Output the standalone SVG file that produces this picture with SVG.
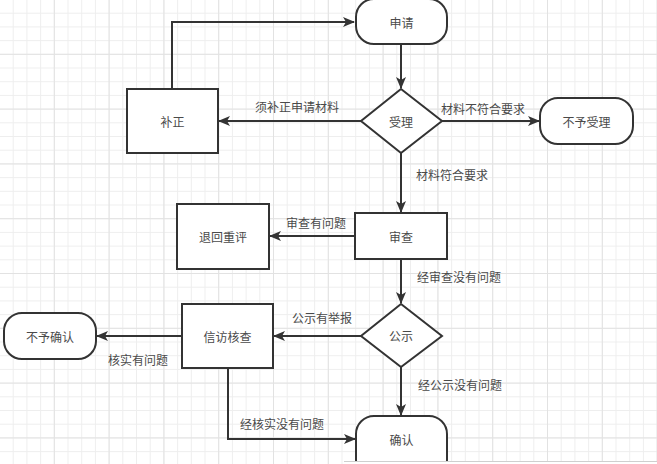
<svg xmlns="http://www.w3.org/2000/svg" width="657" height="464" viewBox="0 0 657 464">
<style>
.node{fill:#fff;stroke:#333;stroke-width:2}
.t{font-family:"Noto Sans CJK SC","Noto Sans",sans-serif;font-size:12px;fill:#4a4a4a;text-anchor:middle;dominant-baseline:central}
.c{fill:none;stroke:#333;stroke-width:2;marker-end:url(#arr)}
</style>
<defs>
<pattern id="g" width="13.7" height="13.7" patternUnits="userSpaceOnUse">
<path d="M13.2,0V13.7M0,13.2H13.7" stroke="#eeeeee" stroke-width="1" fill="none"/>
</pattern>
<pattern id="G" width="54.8" height="54.8" patternUnits="userSpaceOnUse">
<path d="M54.3,0V54.8M0,54.3H54.8" stroke="#e2e2e2" stroke-width="1" fill="none"/>
</pattern>
<marker id="arr" markerWidth="12" markerHeight="10" refX="11" refY="5" orient="auto" markerUnits="userSpaceOnUse">
<path d="M0,0L12,5L0,10L3,5Z" fill="#333"/>
</marker>
</defs>
<rect width="657" height="464" fill="#fff"/>
<rect width="657" height="464" fill="url(#g)"/>
<rect width="657" height="464" fill="url(#G)"/>
<g id="connectors">
<path class="c" d="M401,44V88"/>
<path class="c" d="M361,121H219"/>
<path class="c" d="M172,89V22H354"/>
<path class="c" d="M442,121H539"/>
<path class="c" d="M401,153V212"/>
<path class="c" d="M355,236H270"/>
<path class="c" d="M401,259V303"/>
<path class="c" d="M361,336H274"/>
<path class="c" d="M182,336H97"/>
<path class="c" d="M228,368V439H355"/>
<path class="c" d="M401,367V415"/>
</g>
<g id="labels">
<text class="t" x="297" y="106">须补正申请材料</text>
<text class="t" x="483" y="108">材料不符合要求</text>
<text class="t" x="452" y="174">材料符合要求</text>
<text class="t" x="316" y="222">审查有问题</text>
<text class="t" x="459" y="276">经审查没有问题</text>
<text class="t" x="322" y="317">公示有举报</text>
<text class="t" x="138" y="359">核实有问题</text>
<text class="t" x="460" y="384">经公示没有问题</text>
<text class="t" x="282" y="423">经核实没有问题</text>
</g>
<g id="n-shenqing"><rect class="node" x="356" y="-1" width="91" height="45" rx="18"/><text class="t" x="401.5" y="22">申请</text></g>
<g id="n-buzheng"><rect class="node" x="127" y="89" width="91" height="64"/><text class="t" x="172.5" y="121">补正</text></g>
<g id="n-shouli"><path class="node" d="M401,89L442,121L401,153L361,121Z"/><text class="t" x="401" y="121">受理</text></g>
<g id="n-buyushouli"><rect class="node" x="540" y="98" width="93" height="46" rx="18"/><text class="t" x="586.5" y="121">不予受理</text></g>
<g id="n-shencha"><rect class="node" x="355" y="213" width="92" height="46"/><text class="t" x="401" y="236">审查</text></g>
<g id="n-tuihui"><rect class="node" x="177" y="204" width="92" height="65"/><text class="t" x="223" y="236.5">退回重评</text></g>
<g id="n-gongshi"><path class="node" d="M401,304L442,336L401,367L361,336Z"/><text class="t" x="401" y="335.5">公示</text></g>
<g id="n-xinfang"><rect class="node" x="182" y="304" width="91" height="64"/><text class="t" x="227.5" y="336">信访核查</text></g>
<g id="n-buyuqueren"><rect class="node" x="4" y="313" width="92" height="46" rx="18"/><text class="t" x="50" y="336">不予确认</text></g>
<g id="n-queren"><rect class="node" x="356" y="416" width="91" height="62" rx="18"/><text class="t" x="401.5" y="439">确认</text></g>
<rect x="344" y="461" width="313" height="3" fill="#fff"/>
<line x1="344" y1="461.5" x2="657" y2="461.5" stroke="#cfcfcf" stroke-width="1"/>
</svg>
